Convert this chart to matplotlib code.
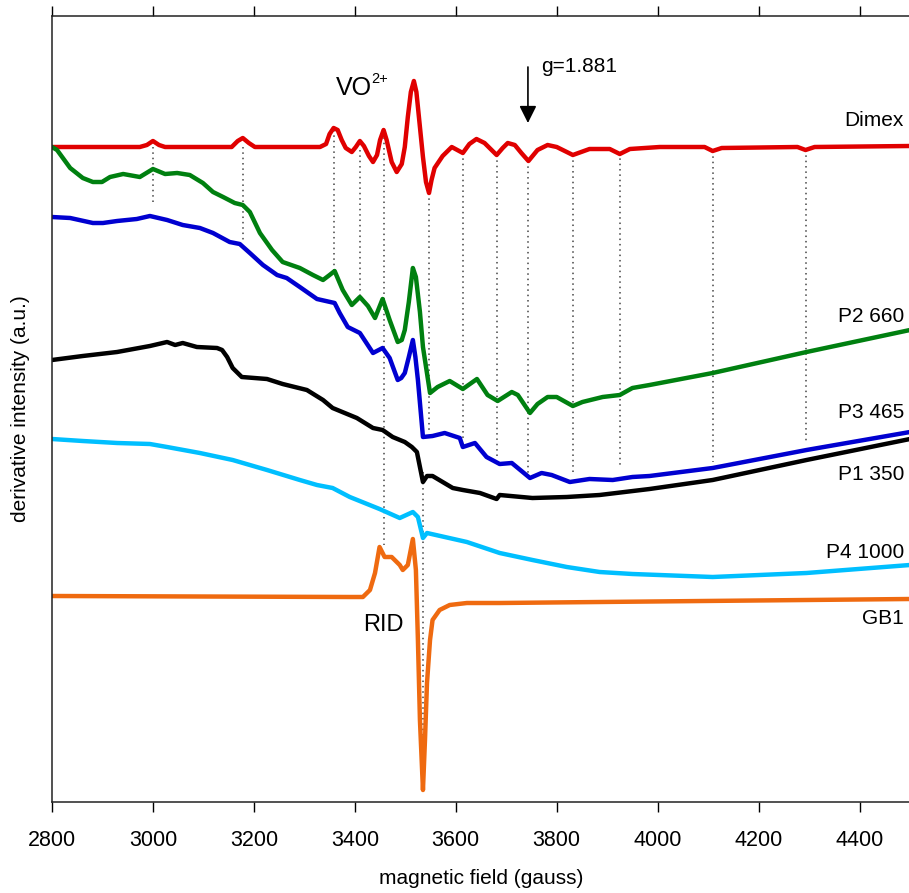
import matplotlib
matplotlib.use("Agg")
import matplotlib.pyplot as plt

plt.rcParams['font.family'] = ['Liberation Sans', 'DejaVu Sans']

# field in gauss, intensity in arbitrary units (curves are offset for display)
dimex_x = [2800, 2974, 2988, 3000, 3012, 3024, 3156, 3168, 3178, 3190, 3202, 3331, 3343, 3350,
           3358, 3366, 3374, 3382, 3394, 3402, 3410, 3418, 3428, 3436, 3444, 3450, 3457, 3463,
           3473, 3483, 3493, 3499, 3505, 3511, 3517, 3522, 3527, 3535, 3541, 3547, 3552, 3558,
           3574, 3592, 3614, 3627, 3641, 3657, 3681, 3693, 3703, 3717, 3730, 3744, 3762, 3782,
           3800, 3832, 3865, 3905, 3925, 3945, 4004, 4093, 4109, 4127, 4277, 4293, 4311, 4500]
dimex_y = [6.55, 6.55, 6.57, 6.61, 6.57, 6.55, 6.55, 6.61, 6.64, 6.59, 6.55, 6.55, 6.58, 6.68,
           6.74, 6.72, 6.62, 6.54, 6.50, 6.55, 6.61, 6.56, 6.46, 6.40, 6.47, 6.62, 6.72, 6.62,
           6.40, 6.30, 6.38, 6.55, 6.85, 7.10, 7.21, 7.10, 6.85, 6.45, 6.20, 6.09, 6.22, 6.34,
           6.46, 6.55, 6.49, 6.58, 6.63, 6.59, 6.47, 6.54, 6.59, 6.57, 6.49, 6.41, 6.52, 6.57,
           6.55, 6.47, 6.53, 6.53, 6.48, 6.53, 6.55, 6.55, 6.51, 6.54, 6.55, 6.52, 6.55, 6.56]

p2_x = [2800, 2810, 2836, 2861, 2881, 2899, 2915, 2941, 2974, 3000, 3024, 3048, 3073, 3099,
        3119, 3139, 3162, 3178, 3192, 3212, 3236, 3257, 3291, 3317, 3337, 3350, 3360, 3376,
        3394, 3410, 3426, 3440, 3455, 3469, 3485, 3493, 3499, 3507, 3515, 3521, 3529, 3535,
        3549, 3564, 3588, 3614, 3642, 3663, 3683, 3711, 3723, 3747, 3762, 3782, 3800, 3832,
        3851, 3891, 3925, 3950, 3984, 4109, 4295, 4500]
p2_y = [6.55, 6.52, 6.34, 6.24, 6.20, 6.20, 6.25, 6.28, 6.25, 6.33, 6.28, 6.29, 6.27, 6.19,
        6.10, 6.05, 5.99, 5.97, 5.90, 5.69, 5.52, 5.40, 5.34, 5.27, 5.22, 5.27, 5.31, 5.12,
        4.97, 5.05, 4.96, 4.84, 5.03, 4.82, 4.60, 4.62, 4.72, 5.00, 5.34, 5.25, 4.90, 4.55,
        4.09, 4.15, 4.21, 4.13, 4.23, 4.07, 4.01, 4.10, 4.07, 3.89, 3.98, 4.05, 4.05, 3.96,
        4.00, 4.05, 4.07, 4.14, 4.17, 4.29, 4.50, 4.72]

p3_x = [2800, 2836, 2881, 2901, 2929, 2968, 2994, 3028, 3059, 3093, 3119, 3152, 3172, 3192,
        3218, 3246, 3265, 3291, 3325, 3360, 3370, 3386, 3410, 3436, 3455, 3469, 3485, 3492,
        3499, 3507, 3515, 3520, 3525, 3535, 3554, 3578, 3608, 3614, 3638, 3661, 3687, 3711,
        3747, 3770, 3790, 3826, 3865, 3911, 3950, 3984, 4109, 4295, 4500]
p3_y = [5.85, 5.84, 5.79, 5.79, 5.81, 5.83, 5.86, 5.82, 5.77, 5.74, 5.69, 5.60, 5.58, 5.49,
        5.37, 5.27, 5.24, 5.15, 5.03, 4.99, 4.89, 4.75, 4.69, 4.49, 4.54, 4.44, 4.22, 4.24,
        4.29, 4.45, 4.62, 4.45, 4.22, 3.65, 3.66, 3.69, 3.64, 3.55, 3.59, 3.45, 3.38, 3.39,
        3.24, 3.29, 3.27, 3.20, 3.23, 3.22, 3.25, 3.26, 3.34, 3.52, 3.70]

p1_x = [2800, 2861, 2929, 2994, 3028, 3044, 3059, 3087, 3127, 3137, 3147, 3158, 3176, 3226,
        3257, 3305, 3337, 3356, 3404, 3436, 3455, 3475, 3499, 3513, 3523, 3535, 3543, 3554,
        3594, 3614, 3648, 3681, 3687, 3752, 3820, 3885, 3984, 4109, 4295, 4500]
p1_y = [4.42, 4.46, 4.50, 4.56, 4.60, 4.57, 4.59, 4.55, 4.54, 4.52, 4.45, 4.34, 4.25, 4.23,
        4.18, 4.12, 4.02, 3.94, 3.84, 3.74, 3.72, 3.65, 3.60, 3.55, 3.50, 3.20, 3.26, 3.26,
        3.14, 3.12, 3.09, 3.03, 3.07, 3.04, 3.05, 3.07, 3.13, 3.22, 3.42, 3.63]

p4_x = [2800, 2861, 2929, 2994, 3028, 3093, 3158, 3226, 3291, 3325, 3356, 3390, 3449, 3489,
        3515, 3525, 3535, 3543, 3622, 3687, 3752, 3820, 3885, 3950, 4109, 4295, 4500]
p4_y = [3.63, 3.61, 3.59, 3.58, 3.55, 3.49, 3.42, 3.32, 3.22, 3.17, 3.14, 3.05, 2.93, 2.84,
        2.90, 2.85, 2.64, 2.69, 2.60, 2.49, 2.42, 2.35, 2.30, 2.28, 2.25, 2.29, 2.37]

gb1_x = [2800, 3390, 3416, 3430, 3440, 3449, 3459, 3473, 3489, 3495, 3505, 3515, 3521, 3525,
         3529, 3535, 3539, 3543, 3549, 3554, 3568, 3588, 3622, 3687, 3885, 4500]
gb1_y = [2.06, 2.05, 2.05, 2.12, 2.29, 2.55, 2.45, 2.45, 2.37, 2.32, 2.37, 2.63, 2.32, 1.62,
         0.82, 0.12, 0.62, 1.19, 1.62, 1.82, 1.92, 1.97, 1.99, 1.99, 2.00, 2.03]

# hyperfine line markers: field, top, bottom
mark_x = [3000, 3178, 3358, 3410, 3457, 3547, 3535, 3614, 3681, 3744, 3832, 3925, 4109, 4293]
mark_top = [6.55, 6.55, 6.72, 6.52, 6.70, 6.09, 3.30, 6.49, 6.47, 6.41, 6.47, 6.49, 6.51, 6.52]
mark_bot = [5.97, 5.62, 5.32, 5.05, 2.57, 3.69, 0.14, 3.62, 3.45, 3.27, 3.29, 3.34, 3.40, 3.59]

series = [
    (dimex_x, dimex_y, '#e00000', 'Dimex', 6.82),
    (p2_x, p2_y, '#008010', 'P2 660', 4.85),
    (p3_x, p3_y, '#0000d0', 'P3 465', 3.90),
    (p1_x, p1_y, 'black', 'P1 350', 3.27),
    (p4_x, p4_y, '#00bfff', 'P4 1000', 2.50),
    (gb1_x, gb1_y, '#ef6a10', 'GB1', 1.84),
]

fig = plt.figure(figsize=(9.09, 8.93), dpi=100)
ax = fig.add_axes([52 / 909, 91 / 893, 858 / 909, 786 / 893])

for mx, t, b in zip(mark_x, mark_top, mark_bot):
    ax.plot([mx, mx], [t, b], linestyle=(0, (1, 2.5)), color='#444444', lw=1.1, zorder=1)

for xs, ys, col, name, ly in series:
    ax.plot(xs, ys, color=col, lw=3.2, solid_joinstyle='round', solid_capstyle='round', zorder=2)
    ax.text(4488, ly, name, ha='right', va='center', fontsize=15)

ax.text(3362, 7.14, 'VO', ha='left', va='center', fontsize=18)
ax.text(3432, 7.23, '2+', ha='left', va='center', fontsize=10.5)
ax.text(3416, 1.77, 'RID', ha='left', va='center', fontsize=17)
ax.text(3770, 7.35, 'g=1.881', ha='left', va='center', fontsize=15)
ax.annotate('', xy=(3743, 6.79), xytext=(3743, 7.35),
            arrowprops=dict(arrowstyle='-|>', color='black', lw=1.2,
                            mutation_scale=26, shrinkA=0, shrinkB=0))

ax.set_xlim(2800, 4500)
ax.set_ylim(0, 7.86)
ax.set_xticks(range(2800, 4500, 200))
ax.set_yticks([])
ax.tick_params(axis='x', which='both', top=True, direction='out', length=7,
               width=1, labelsize=15.5, pad=13)
for side in ['left', 'top', 'bottom']:
    ax.spines[side].set_linewidth(1.1)
    ax.spines[side].set_color('#222222')
ax.spines['right'].set_visible(False)

ax.set_xlabel('magnetic field (gauss)', fontsize=15, labelpad=13)
ax.set_ylabel('derivative intensity (a.u.)', fontsize=15, labelpad=16)

fig.savefig('out.png', dpi=100)
